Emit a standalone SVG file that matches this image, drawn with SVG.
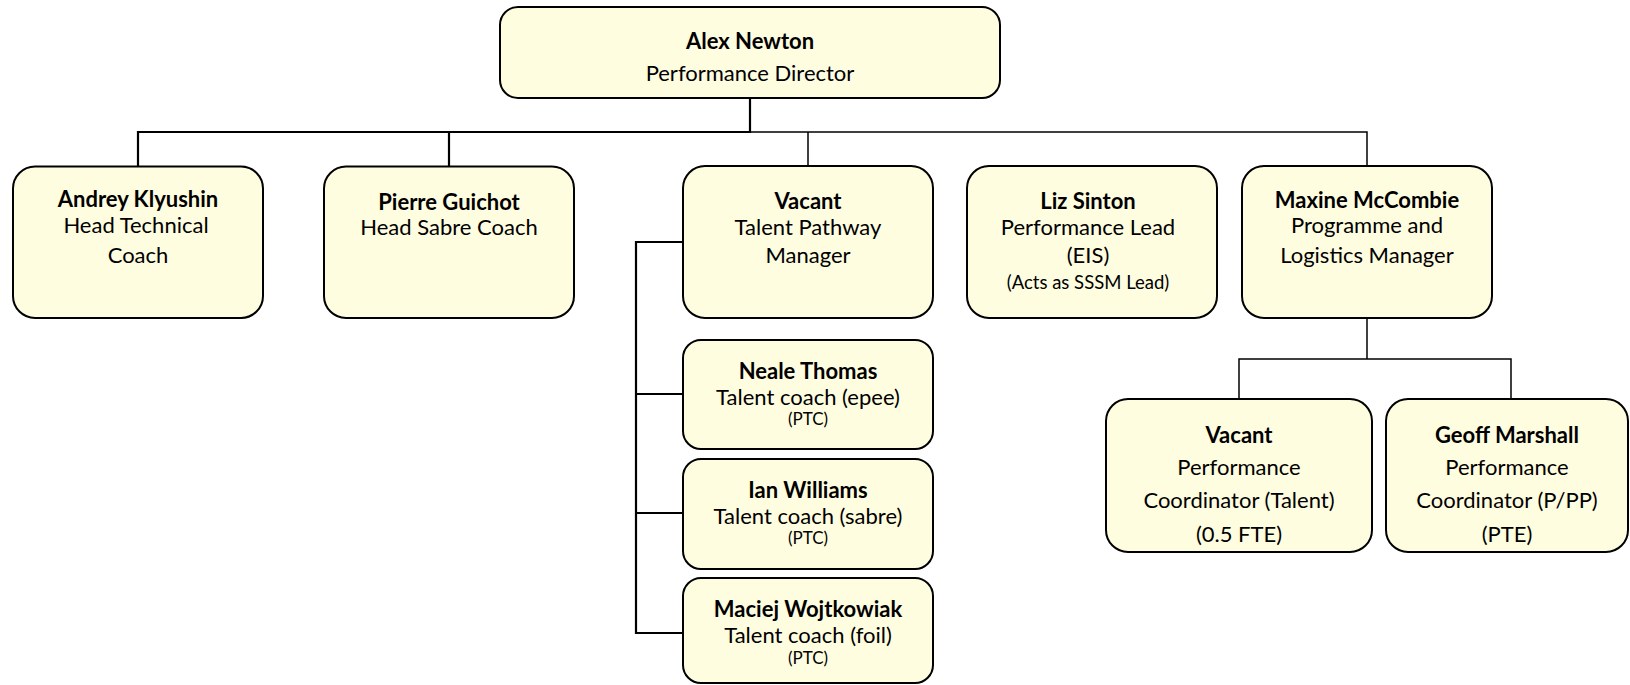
<svg xmlns="http://www.w3.org/2000/svg" width="1630" height="685" viewBox="0 0 1630 685">
<style>
.box{fill:#FFFDE0;stroke:#000;stroke-width:2}
text{font-family:Lato,"Liberation Sans",sans-serif;fill:#000;text-anchor:middle}
.b{font-weight:bold;font-size:22px}
.r{font-size:22px}
.s{font-size:17px}
.m{font-size:18.5px}
.thick{fill:none;stroke:#000;stroke-width:2.2}
.thin{fill:none;stroke:#000;stroke-width:1.5}
</style>
<rect width="1630" height="685" fill="#fff"/>
<g id="connectors">
<path class="thick" d="M750 98V132H138V166.5M449 132V166.5"/>
<path class="thin" d="M750 132H1367V166M808 132V166"/>
<path class="thick" d="M683 242H636V633H683M636 394H683M636 513H683"/>
<path class="thin" d="M1367 318V359H1239V399M1367 359H1511V399"/>
</g>
<g id="alex-newton">
<rect class="box" x="500" y="7" width="500" height="91" rx="18"/>
<text class="b" x="750" y="49">Alex Newton</text>
<text class="r" x="750" y="81">Performance Director</text>
</g>
<g id="andrey-klyushin">
<rect class="box" x="13" y="166.5" width="250" height="151.5" rx="22"/>
<text class="b" x="138" y="207">Andrey Klyushin</text>
<text class="r" x="136" y="233">Head Technical</text>
<text class="r" x="138" y="263">Coach</text>
</g>
<g id="pierre-guichot">
<rect class="box" x="324" y="166.5" width="250" height="151.5" rx="22"/>
<text class="b" x="449" y="210">Pierre Guichot</text>
<text class="r" x="449" y="235">Head Sabre Coach</text>
</g>
<g id="vacant-tpm">
<rect class="box" x="683" y="166" width="250" height="152" rx="22"/>
<text class="b" x="808" y="209">Vacant</text>
<text class="r" x="808" y="235">Talent Pathway</text>
<text class="r" x="808" y="263">Manager</text>
</g>
<g id="liz-sinton">
<rect class="box" x="967" y="166" width="250" height="152" rx="22"/>
<text class="b" x="1088" y="209">Liz Sinton</text>
<text class="r" x="1088" y="235">Performance Lead</text>
<text class="r" x="1088" y="263">(EIS)</text>
<text class="m" x="1088" y="289">(Acts as SSSM Lead)</text>
</g>
<g id="maxine-mccombie">
<rect class="box" x="1242" y="166" width="250" height="152" rx="22"/>
<text class="b" x="1367" y="208">Maxine McCombie</text>
<text class="r" x="1367" y="233">Programme and</text>
<text class="r" x="1367" y="263">Logistics Manager</text>
</g>
<g id="neale-thomas">
<rect class="box" x="683" y="340" width="250" height="109" rx="18"/>
<text class="b" x="808" y="379">Neale Thomas</text>
<text class="r" x="808" y="405">Talent coach (epee)</text>
<text class="s" x="808" y="425">(PTC)</text>
</g>
<g id="ian-williams">
<rect class="box" x="683" y="459" width="250" height="110" rx="18"/>
<text class="b" x="808" y="498">Ian Williams</text>
<text class="r" x="808" y="524">Talent coach (sabre)</text>
<text class="s" x="808" y="544">(PTC)</text>
</g>
<g id="maciej-wojtkowiak">
<rect class="box" x="683" y="578" width="250" height="105" rx="18"/>
<text class="b" x="808" y="617">Maciej Wojtkowiak</text>
<text class="r" x="808" y="643">Talent coach (foil)</text>
<text class="s" x="808" y="664">(PTC)</text>
</g>
<g id="vacant-coordinator">
<rect class="box" x="1106" y="399" width="266" height="153" rx="22"/>
<text class="b" x="1239" y="443">Vacant</text>
<text class="r" x="1239" y="475">Performance</text>
<text class="r" x="1239" y="508">Coordinator (Talent)</text>
<text class="r" x="1239" y="542">(0.5 FTE)</text>
</g>
<g id="geoff-marshall">
<rect class="box" x="1386" y="399" width="242" height="153" rx="22"/>
<text class="b" x="1507" y="443">Geoff Marshall</text>
<text class="r" x="1507" y="475">Performance</text>
<text class="r" x="1507" y="508">Coordinator (P/PP)</text>
<text class="r" x="1507" y="542">(PTE)</text>
</g>
</svg>
